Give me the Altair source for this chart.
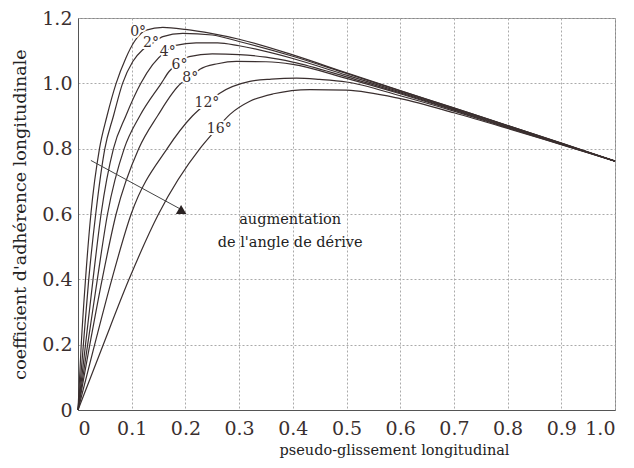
import altair as alt
import pandas as pd

# ---- data ----
angles = ["0°", "2°", "4°", "6°", "8°", "12°", "16°"]

x_0 = [0, 0.006, 0.014, 0.024, 0.040, 0.054, 0.071, 0.089, 0.105, 0.127, 0.158, 0.2, 0.25, 0.3, 0.4, 0.5, 0.6, 0.7, 0.8, 0.9, 1.0]
y_0 = [0, 0.2, 0.4, 0.6, 0.8, 0.9, 1.0, 1.077, 1.128, 1.163, 1.171, 1.165, 1.152, 1.135, 1.087, 1.032, 0.978, 0.925, 0.871, 0.817, 0.762]

x_2 = [0, 0.010, 0.020, 0.033, 0.050, 0.066, 0.083, 0.102, 0.12, 0.139, 0.158, 0.195, 0.25, 0.3, 0.4, 0.5, 0.6, 0.7, 0.8, 0.9, 1.0]
y_2 = [0, 0.2, 0.4, 0.6, 0.8, 0.9, 1.0, 1.067, 1.102, 1.123, 1.143, 1.153, 1.148, 1.128, 1.083, 1.030, 0.977, 0.924, 0.871, 0.817, 0.762]

x_4 = [0, 0.014, 0.028, 0.043, 0.066, 0.089, 0.117, 0.139, 0.164, 0.182, 0.22, 0.26, 0.3, 0.4, 0.5, 0.6, 0.7, 0.8, 0.9, 1.0]
y_4 = [0, 0.2, 0.4, 0.6, 0.8, 0.9, 1.0, 1.057, 1.098, 1.116, 1.124, 1.124, 1.115, 1.076, 1.025, 0.974, 0.922, 0.870, 0.816, 0.762]

x_6 = [0, 0.018, 0.036, 0.055, 0.086, 0.115, 0.155, 0.170, 0.187, 0.207, 0.25, 0.3, 0.35, 0.4, 0.5, 0.6, 0.7, 0.8, 0.9, 1.0]
y_6 = [0, 0.2, 0.4, 0.6, 0.8, 0.9, 1.0, 1.037, 1.062, 1.082, 1.090, 1.088, 1.080, 1.065, 1.020, 0.971, 0.920, 0.868, 0.815, 0.762]

x_8 = [0, 0.022, 0.045, 0.071, 0.113, 0.148, 0.192, 0.209, 0.227, 0.26, 0.295, 0.35, 0.4, 0.5, 0.6, 0.7, 0.8, 0.9, 1.0]
y_8 = [0, 0.2, 0.4, 0.6, 0.8, 0.9, 1.0, 1.017, 1.043, 1.06, 1.067, 1.066, 1.058, 1.015, 0.968, 0.918, 0.866, 0.814, 0.762]

x_12 = [0, 0.031, 0.063, 0.099, 0.166, 0.213, 0.240, 0.264, 0.32, 0.36, 0.407, 0.45, 0.5, 0.6, 0.7, 0.8, 0.9, 1.0]
y_12 = [0, 0.2, 0.4, 0.6, 0.8, 0.9, 0.94, 0.97, 1.006, 1.013, 1.016, 1.012, 1.004, 0.962, 0.915, 0.864, 0.813, 0.762]

x_16 = [0, 0.047, 0.095, 0.150, 0.227, 0.25, 0.283, 0.32, 0.364, 0.432, 0.5, 0.6, 0.7, 0.8, 0.9, 1.0]
y_16 = [0, 0.2, 0.4, 0.6, 0.8, 0.845, 0.905, 0.945, 0.968, 0.981, 0.979, 0.953, 0.910, 0.862, 0.812, 0.762]

# curve label anchor positions
label_x = [0.112, 0.136, 0.167, 0.189, 0.209, 0.240, 0.263]
label_y = [1.158, 1.125, 1.096, 1.056, 1.015, 0.939, 0.860]

# arrow "augmentation de l'angle de dérive"
arrow_x = [0.024]
arrow_y = [0.764]
arrow_x2 = [0.192]
arrow_y2 = [0.614]
note_lines = ["augmentation", "de l'angle de dérive"]
note_x = [0.395, 0.395]
note_y = [0.582, 0.512]

x_ticks = [0, 0.1, 0.2, 0.3, 0.4, 0.5, 0.6, 0.7, 0.8, 0.9, 1.0]
y_ticks = [0, 0.2, 0.4, 0.6, 0.8, 1.0, 1.2]

# ---- tables ----
rows = []
for name, xs, ys in zip(angles, [x_0, x_2, x_4, x_6, x_8, x_12, x_16],
                        [y_0, y_2, y_4, y_6, y_8, y_12, y_16]):
    for i, (a, b) in enumerate(zip(xs, ys)):
        rows.append({"angle": name, "x": a, "y": b, "i": i})
curves = pd.DataFrame(rows)
labels = pd.DataFrame({"angle": angles, "x": label_x, "y": label_y})
arrow = pd.DataFrame({"x": arrow_x, "y": arrow_y, "x2": arrow_x2, "y2": arrow_y2})
head = pd.DataFrame({"x": arrow_x2, "y": arrow_y2})
note = pd.DataFrame({"t": note_lines, "x": note_x, "y": note_y})

FONT = "DejaVu Serif"
INK = "#3a2f2f"

xs = alt.Scale(domain=[0, 1], nice=False)
ys = alt.Scale(domain=[0, 1.2], nice=False)
X = alt.X("x:Q", scale=xs, axis=alt.Axis(
    values=x_ticks, title="pseudo-glissement longitudinal",
    labelExpr="datum.value == 0 ? '0' : format(datum.value, '.1f')",
    labelPadding=9, titlePadding=5, titleFontSize=14.5, labelFontSize=19,
    titleX=316, titleAlign="center"))
Y = alt.Y("y:Q", scale=ys, axis=alt.Axis(
    values=y_ticks, title="coefficient d'adhérence longitudinale",
    labelExpr="datum.value == 0 ? '0' : format(datum.value, '.1f')",
    labelPadding=6, titlePadding=12, titleFontSize=17.5, labelFontSize=19))

lines = alt.Chart(curves).mark_line(
    interpolate="monotone", color=INK, strokeWidth=1.2
).encode(x=X, y=Y, detail="angle:N", order="i:Q")

halo = alt.Chart(labels).mark_text(
    font=FONT, fontSize=14, color="white", stroke="white", strokeWidth=4
).encode(x=X, y=Y, text="angle:N")
lbl = alt.Chart(labels).mark_text(
    font=FONT, fontSize=14, color=INK
).encode(x=X, y=Y, text="angle:N")

arrow_line = alt.Chart(arrow).mark_rule(color="#444", strokeWidth=1).encode(
    x=X, y=Y, x2="x2:Q", y2="y2:Q")
arrow_head = alt.Chart(head).mark_point(
    shape="triangle-up", filled=True, size=110, color="#2a2222", opacity=1
).encode(x=X, y=Y)

note_txt = alt.Chart(note).mark_text(
    font=FONT, fontSize=14.5, color="#222"
).encode(x=X, y=Y, text="t:N")

chart = alt.layer(lines, halo, lbl, arrow_line, arrow_head, note_txt).properties(
    width=537, height=392,
    autosize=alt.AutoSizeParams(type="none"),
    padding={"left": 70, "top": 10, "right": 11, "bottom": 50},
    background="white",
).configure_view(
    stroke="#888", strokeWidth=1
).configure_axis(
    grid=True, gridDash=[2, 2], gridColor="#aaa", gridWidth=1,
    domainColor="#555", ticks=False,
    labelFont=FONT, titleFont=FONT, labelColor=INK, titleColor="#222",
    titleFontWeight="normal",
)

chart.save("out.html", embed_options={"renderer": "svg", "actions": False})
